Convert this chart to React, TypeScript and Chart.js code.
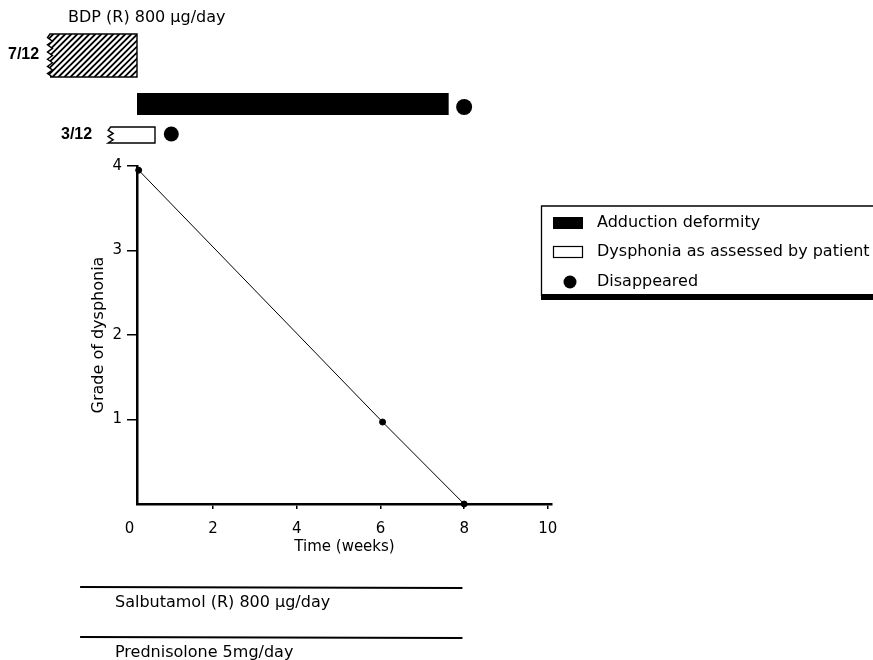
import React, { useEffect, useRef } from "react";
import { Chart, registerables } from "chart.js";

Chart.register(...registerables);

// ---- data ----
const weeks = [0.22, 6.05, 8];
const grade = [3.95, 0.97, 0];
const xTickValues = [0, 2, 4, 6, 8, 10];
const yTickValues = [0, 1, 2, 3, 4];

const bdpPeriod = [-1.96, 0.18];
const adductionPeriod = [0.18, 7.63];
const adductionGone = 8.0;
const dysphoniaPeriod = [-0.51, 0.61];
const dysphoniaGone = 1.0;
const salbutamolPeriod = [-1.18, 7.96];
const prednisolonePeriod = [-1.18, 7.96];

const bdpLabel = "BDP (R) 800 μg/day";
const bdpFraction = "7/12";
const dysphoniaFraction = "3/12";
const salbutamolLabel = "Salbutamol (R) 800 μg/day";
const prednisoloneLabel = "Prednisolone 5mg/day";
const legendLabels = ["Adduction deformity", "Dysphonia as assessed by patient", "Disappeared"];

const FONT = '"DejaVu Sans", sans-serif';

function tornBox(ctx: CanvasRenderingContext2D, x0: number, y0: number, x1: number, y1: number, tooth: number, step: number, hatched: boolean) {
  const path = new Path2D();
  path.moveTo(x1, y0);
  path.lineTo(x0 + tooth / 2, y0);
  let y = y0;
  let k = 0;
  while (y < y1) {
    y = Math.min(y + step, y1);
    k++;
    path.lineTo(k % 2 === 1 ? x0 : x0 + tooth, y);
  }
  path.lineTo(x0 + tooth / 2, y1);
  path.lineTo(x1, y1);
  path.closePath();
  ctx.fillStyle = "#fff";
  ctx.fill(path);
  if (hatched) {
    ctx.save();
    ctx.clip(path);
    ctx.lineWidth = 1.8;
    ctx.strokeStyle = "#000";
    const h = y1 - y0;
    for (let s = x0 - h; s < x1 + 2; s += 6) {
      ctx.beginPath();
      ctx.moveTo(s, y1);
      ctx.lineTo(s + h, y0);
      ctx.stroke();
    }
    ctx.restore();
  }
  ctx.strokeStyle = "#000";
  ctx.lineWidth = 1.4;
  ctx.stroke(path);
}

const extrasPlugin = {
  id: "extras",
  afterDraw(chart: any) {
    const ctx: CanvasRenderingContext2D = chart.ctx;
    const xs = chart.scales.x;
    const px = (v: number) => xs.getPixelForValue(v);
    ctx.save();
    ctx.fillStyle = "#000";
    ctx.strokeStyle = "#000";
    ctx.textBaseline = "middle";
    ctx.textAlign = "left";

    // BDP header and hatched box
    ctx.font = `16px ${FONT}`;
    ctx.fillText(bdpLabel, 68, 18);
    tornBox(ctx, px(bdpPeriod[0]), 34, px(bdpPeriod[1]), 77, 5, 3.6, true);
    ctx.fillStyle = "#000";
    ctx.font = `bold 16px "Liberation Sans", sans-serif`;
    ctx.fillText(bdpFraction, 8, 55);

    // adduction deformity bar
    ctx.fillStyle = "#000";
    ctx.fillRect(px(adductionPeriod[0]), 93, px(adductionPeriod[1]) - px(adductionPeriod[0]), 22);
    ctx.beginPath();
    ctx.arc(px(adductionGone), 107, 8, 0, Math.PI * 2);
    ctx.fill();

    // dysphonia box
    tornBox(ctx, px(dysphoniaPeriod[0]), 127, px(dysphoniaPeriod[1]), 143, 5, 3.2, false);
    ctx.fillStyle = "#000";
    ctx.font = `bold 16px "Liberation Sans", sans-serif`;
    ctx.fillText(dysphoniaFraction, 61, 135);
    ctx.beginPath();
    ctx.arc(px(dysphoniaGone), 134, 7.5, 0, Math.PI * 2);
    ctx.fill();

    // treatment lines
    ctx.lineWidth = 2;
    ctx.beginPath();
    ctx.moveTo(px(salbutamolPeriod[0]), 587);
    ctx.lineTo(px(salbutamolPeriod[1]), 588);
    ctx.stroke();
    ctx.beginPath();
    ctx.moveTo(px(prednisolonePeriod[0]), 637);
    ctx.lineTo(px(prednisolonePeriod[1]), 638);
    ctx.stroke();
    ctx.font = `16px ${FONT}`;
    ctx.fillText(salbutamolLabel, 115, 603);
    ctx.fillText(prednisoloneLabel, 115, 653);

    // legend box
    ctx.lineWidth = 1.3;
    ctx.beginPath();
    ctx.moveTo(873, 206);
    ctx.lineTo(541.5, 206);
    ctx.lineTo(541.5, 296);
    ctx.stroke();
    ctx.fillRect(541, 294, 332, 6);
    ctx.fillRect(553, 217, 30, 12);
    ctx.lineWidth = 1.2;
    ctx.strokeRect(553.5, 246.5, 29, 11);
    ctx.beginPath();
    ctx.arc(570, 282, 6.5, 0, Math.PI * 2);
    ctx.fill();
    ctx.font = `16px ${FONT}`;
    ctx.fillText(legendLabels[0], 597, 223);
    ctx.fillText(legendLabels[1], 597, 252);
    ctx.fillText(legendLabels[2], 597, 282);

    ctx.restore();
  },
};

export default function App() {
  const ref = useRef<HTMLCanvasElement>(null);
  useEffect(() => {
    if (!ref.current) return;
    Chart.defaults.font.family = FONT;
    Chart.defaults.color = "#000";
    const chart = new Chart(ref.current, {
      type: "line",
      data: {
        datasets: [
          {
            data: weeks.map((w, i) => ({ x: w, y: grade[i] })),
            borderColor: "#000",
            borderWidth: 1,
            pointRadius: 3,
            pointBackgroundColor: "#000",
            pointBorderColor: "#000",
            tension: 0,
            clip: false as any,
          },
        ],
      },
      options: {
        animation: false,
        responsive: false,
        maintainAspectRatio: false,
        devicePixelRatio: 1,
        layout: { padding: { left: 89, right: 321, top: 166, bottom: 104 } },
        plugins: { legend: { display: false }, tooltip: { enabled: false } },
        scales: {
          x: {
            type: "linear",
            min: 0.18,
            max: 10.1,
            afterBuildTicks: (s: any) => {
              s.ticks = xTickValues.map((v) => ({ value: v }));
            },
            afterFit: (s: any) => {
              s.height = 52;
            },
            grid: {
              drawOnChartArea: false,
              drawTicks: true,
              tickLength: 5,
              color: (c: any) => (c.tick && c.tick.value === 0 ? "rgba(0,0,0,0)" : "#000"),
              lineWidth: 1.5,
            },
            border: { display: true, color: "#000", width: 2.5 },
            ticks: {
              autoSkip: false,
              maxRotation: 0,
              padding: 11,
              font: { size: 15 },
              color: "#000",
              callback: (v: any) => String(v),
            },
            title: { display: true, text: "Time (weeks)", font: { size: 15 }, padding: 0, color: "#000" },
          },
          y: {
            type: "linear",
            min: 0,
            max: 4,
            afterBuildTicks: (s: any) => {
              s.ticks = yTickValues.map((v) => ({ value: v }));
            },
            afterFit: (s: any) => {
              s.width = 48;
            },
            grid: {
              drawOnChartArea: false,
              drawTicks: true,
              tickLength: 10,
              color: (c: any) => (c.tick && c.tick.value === 0 ? "rgba(0,0,0,0)" : "#000"),
              lineWidth: 1.5,
            },
            border: { display: true, color: "#000", width: 2.5 },
            ticks: {
              padding: 5,
              font: { size: 15 },
              color: "#000",
              callback: (v: any) => (v === 0 ? "" : String(v)),
            },
            title: { display: true, text: "Grade of dysphonia", font: { size: 16 }, padding: 0, color: "#000" },
          },
        },
      },
      plugins: [extrasPlugin],
    } as any);
    return () => chart.destroy();
  }, []);
  return (
    <div style={{ position: "fixed", left: 0, top: 0, width: 873, height: 660, background: "#fff" }}>
      <canvas ref={ref} width={873} height={660} style={{ display: "block", width: 873, height: 660 }} />
    </div>
  );
}
